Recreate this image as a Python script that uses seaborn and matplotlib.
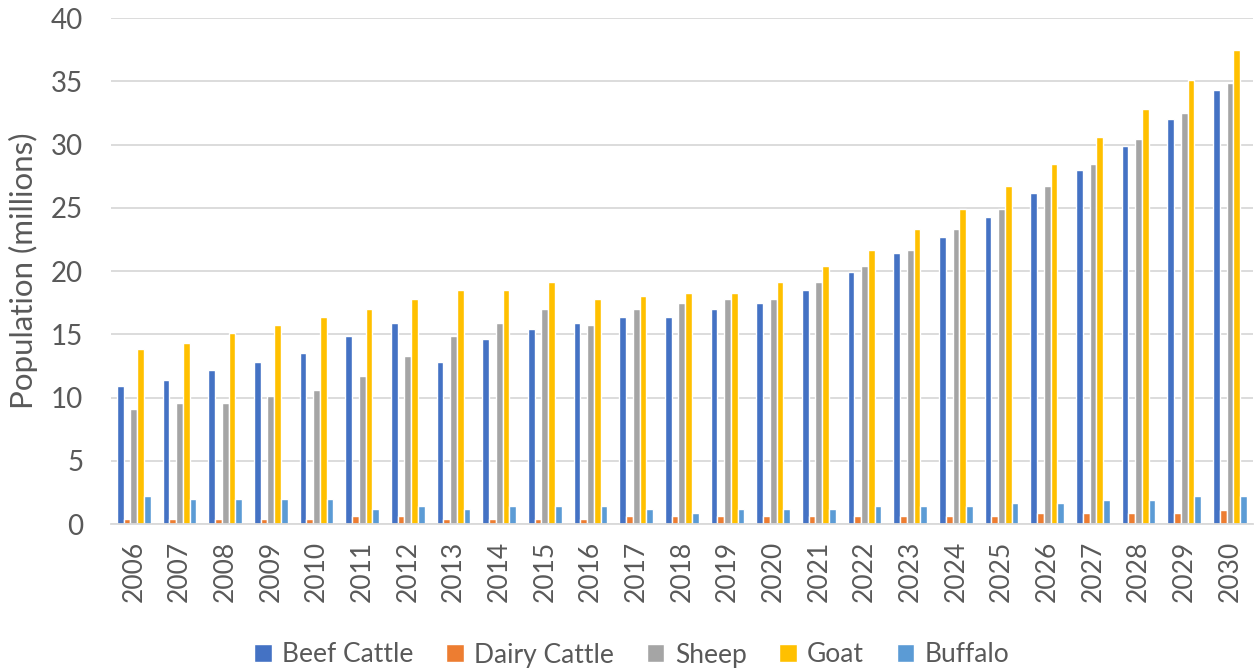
import matplotlib
matplotlib.use("Agg")
import matplotlib.pyplot as plt
import seaborn as sns
import pandas as pd

years = [str(y) for y in range(2006, 2031)]
beef_cattle = [10.9, 11.4, 12.2, 12.8, 13.5, 14.9, 15.9, 12.8, 14.6, 15.4, 15.9, 16.4, 16.4, 17.0, 17.5,
               18.5, 19.9, 21.4, 22.7, 24.3, 26.2, 28.0, 29.9, 32.0, 34.3]
dairy_cattle = [0.4, 0.4, 0.4, 0.4, 0.4, 0.6, 0.6, 0.4, 0.4, 0.4, 0.4, 0.6, 0.6, 0.6, 0.6,
                0.6, 0.6, 0.6, 0.6, 0.6, 0.9, 0.9, 0.9, 0.9, 1.1]
sheep = [9.1, 9.6, 9.6, 10.1, 10.6, 11.7, 13.3, 14.9, 15.9, 17.0, 15.7, 17.0, 17.5, 17.8, 17.8,
         19.1, 20.4, 21.7, 23.3, 24.9, 26.7, 28.5, 30.4, 32.5, 34.9]
goat = [13.8, 14.3, 15.1, 15.7, 16.4, 17.0, 17.8, 18.5, 18.5, 19.1, 17.8, 18.0, 18.3, 18.3, 19.1,
        20.4, 21.7, 23.3, 24.9, 26.7, 28.5, 30.6, 32.8, 35.1, 37.5]
buffalo = [2.2, 2.0, 2.0, 2.0, 2.0, 1.2, 1.4, 1.2, 1.4, 1.4, 1.4, 1.2, 0.9, 1.2, 1.2,
           1.2, 1.4, 1.4, 1.4, 1.7, 1.7, 1.9, 1.9, 2.2, 2.2]
series_names = ["Beef Cattle", "Dairy Cattle", "Sheep", "Goat", "Buffalo"]
series_values = [beef_cattle, dairy_cattle, sheep, goat, buffalo]
colors = ["#4472C4", "#ED7D31", "#A5A5A5", "#FFC000", "#5B9BD5"]

rows = []
for name, vals in zip(series_names, series_values):
    for yr, v in zip(years, vals):
        rows.append({"Year": yr, "Series": name, "Value": v})
df = pd.DataFrame(rows)

sns.set_theme(style="white")
plt.rcParams["font.family"] = ["Lato", "DejaVu Sans"]
text_color = "#595959"

fig = plt.figure(figsize=(12.54, 6.69), dpi=100)
ax = fig.add_axes([0.0885, 0.2167, 0.9105, 0.7563])

sns.barplot(data=df, x="Year", y="Value", hue="Series", hue_order=series_names,
            palette=colors, width=0.74, gap=0, ax=ax, legend=True, saturation=1)

ax.set_ylim(0, 40)
ax.set_xlim(-0.5, len(years) - 0.5)
ax.set_yticks(range(0, 41, 5))
ax.yaxis.grid(True, color="#D9D9D9", linewidth=1.3)
ax.set_axisbelow(True)
for s in ["top", "right", "left"]:
    ax.spines[s].set_visible(False)
ax.spines["bottom"].set_color("#D9D9D9")
ax.spines["bottom"].set_linewidth(1.3)
ax.tick_params(axis="both", length=0, labelcolor=text_color)
ax.tick_params(axis="x", rotation=90, pad=12, labelsize=19)
ax.tick_params(axis="y", pad=20, labelsize=20)
ax.set_xlabel("")
ax.set_ylabel("Population (millions)", fontsize=22.5, color=text_color)
ax.yaxis.label.set_va("center")
ax.yaxis.set_label_coords(-0.077, 0.5)

handles, labels = ax.get_legend_handles_labels()
ax.get_legend().remove()
fig.legend(handles, labels, loc="center", bbox_to_anchor=(0.504, 1 - 655 / 669), ncol=5,
           frameon=False, fontsize=19, handlelength=0.65, handleheight=0.65,
           handletextpad=0.4, columnspacing=1.25, labelcolor=text_color)

fig.savefig("out.png", dpi=100)
